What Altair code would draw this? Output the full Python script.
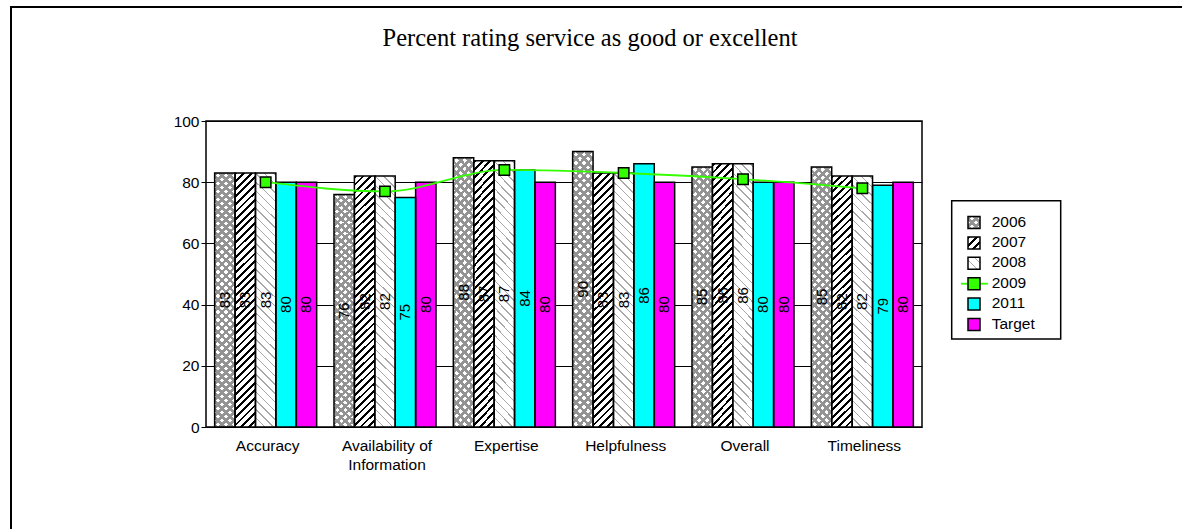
import math

import altair as alt
import pandas as pd

# ---- data -------------------------------------------------------------
TITLE = "Percent rating service as good or excellent"
categories = [
    "Accuracy",
    "Availability of Information",
    "Expertise",
    "Helpfulness",
    "Overall",
    "Timeliness",
]
bar_series = ["2006", "2007", "2008", "2011", "Target"]
legend_series = ["2006", "2007", "2008", "2009", "2011", "Target"]

values_2006 = [83, 76, 88, 90, 85, 85]
values_2007 = [83, 82, 87, 83, 86, 82]
values_2008 = [83, 82, 87, 83, 86, 82]
values_2011 = [80, 75, 84, 86, 80, 79]
values_target = [80, 80, 80, 80, 80, 80]
values_2009 = [80, 77, 84, 83, 81, 78]
y_ticks = [0, 20, 40, 60, 80, 100]

# ---- styling ----------------------------------------------------------
SANS = "Liberation Sans"
SERIF = "Liberation Serif"
GREEN = "#33FF00"
CYAN = "#00FFFF"
MAGENTA = "#FF00FF"
W, H = 716, 306


def hatch(color, period, thick, direction, box_w, box_h):
    """Striped fill built from a hard-stop linear gradient at 45 degrees."""
    span = (box_w + box_h) / math.sqrt(2)
    k = (box_w + box_h) / (box_w ** 2 + box_h ** 2)
    clear = "rgba(255,255,255,0)"
    stops = []
    start = 0.0
    while start < span:
        a = start / span
        b = min((start + thick) / span, 1.0)
        c = min((start + period) / span, 1.0)
        stops += [
            {"offset": round(a, 5), "color": color},
            {"offset": round(b, 5), "color": color},
            {"offset": round(b, 5), "color": clear},
            {"offset": round(c, 5), "color": clear},
        ]
        start += period
    if direction == "/":
        x1, y1, x2, y2 = 0, 0, k * box_w, k * box_h
    else:
        x1, y1, x2, y2 = 0, 1, k * box_w, 1 - k * box_h
    return {"gradient": "linear", "x1": x1, "y1": y1, "x2": x2, "y2": y2, "stops": stops}


# bar-sized and legend-sized pattern fills
BW, BH = 20.4, 255
P06a = hatch("#939393", 5.7, 2.6, "/", BW, BH)
P06b = hatch("#939393", 5.7, 2.6, "\\", BW, BH)
P07 = hatch("#000000", 5.4, 2.0, "/", BW, BH)
P08 = hatch("#A8A8A8", 6.2, 1.0, "\\", BW, BH)
L06a = hatch("#939393", 5.7, 2.6, "/", 12, 12)
L06b = hatch("#939393", 5.7, 2.6, "\\", 12, 12)
L07 = hatch("#000000", 5.4, 2.0, "/", 12, 12)
L08 = hatch("#A8A8A8", 6.2, 1.0, "\\", 12, 12)

# ---- tables -----------------------------------------------------------
series_values = {
    "2006": values_2006,
    "2007": values_2007,
    "2008": values_2008,
    "2011": values_2011,
    "Target": values_target,
}
bars_df = pd.DataFrame(
    [
        {"category": cat, "series": s, "value": vals[i]}
        for s, vals in series_values.items()
        for i, cat in enumerate(categories)
    ]
)
line_df = pd.DataFrame({"category": categories, "value": values_2009})
legend_df = pd.DataFrame({"series": legend_series})
one_df = pd.DataFrame({"item": ["frame"]})

# ---- shared encodings ---------------------------------------------------
x_axis = alt.Axis(
    labelFont=SANS,
    labelFontSize=15.5,
    labelColor="black",
    labelAngle=0,
    labelPadding=11,
    labelOffset=2,
    labelLineHeight=19,
    labelExpr="split(datum.label, ' of ').length > 1 ? ['Availability of', 'Information'] : datum.label",
    ticks=False,
    tickSize=0,
    domain=False,
    grid=False,
)
y_axis = alt.Axis(
    values=y_ticks,
    labelFont=SANS,
    labelFontSize=15.5,
    labelColor="black",
    labelPadding=2,
    tickSize=5,
    tickColor="black",
    tickWidth=1,
    domain=False,
    grid=True,
    gridColor="black",
    gridWidth=1,
    gridOpacity=1,
)
x_enc = alt.X(
    "category:N",
    sort=categories,
    title=None,
    scale=alt.Scale(paddingInner=0.145, paddingOuter=0.0725),
    axis=x_axis,
)
xo_enc = alt.XOffset("series:N", sort=bar_series, scale=alt.Scale(domain=bar_series))
y_scale = alt.Scale(domain=[0, 100], nice=False)
y_enc = alt.Y("value:Q", title=None, scale=y_scale, axis=y_axis)

bars = alt.Chart(bars_df)

bar_base = bars.mark_bar().encode(
    x=x_enc,
    xOffset=xo_enc,
    y=y_enc,
    fill=alt.Fill(
        "series:N",
        scale=alt.Scale(domain=bar_series, range=["white", "white", "white", CYAN, MAGENTA]),
        legend=None,
    ),
)


def patterned(series, fill):
    return (
        bars.transform_filter(alt.datum.series == series)
        .mark_bar(fill=fill)
        .encode(x=x_enc, xOffset=xo_enc, y=y_enc)
    )


bar_outline = bars.mark_bar(fill="transparent", stroke="black", strokeWidth=1.5).encode(
    x=x_enc, xOffset=xo_enc, y=y_enc
)

line_2009 = alt.Chart(line_df).mark_line(
    color=GREEN, strokeWidth=1.8, interpolate="monotone"
).encode(x=x_enc, y=y_enc)

points_2009 = alt.Chart(line_df).mark_square(
    size=110, filled=True, fill=GREEN, stroke="black", strokeWidth=1.5, opacity=1
).encode(x=x_enc, y=y_enc)

bar_labels = (
    bars.transform_calculate(mid="datum.value / 2")
    .mark_text(angle=270, font=SANS, fontSize=15, color="black", baseline="middle", align="center")
    .encode(
        x=x_enc,
        xOffset=xo_enc,
        y=alt.Y("mid:Q", title=None, scale=y_scale, axis=y_axis),
        text=alt.Text("value:Q", format="d"),
    )
)

main = alt.layer(
    bar_base,
    patterned("2006", P06a),
    patterned("2006", P06b),
    patterned("2007", P07),
    patterned("2008", P08),
    bar_outline,
    line_2009,
    points_2009,
    bar_labels,
)

# ---- legend -------------------------------------------------------------
leg = alt.Chart(legend_df)
ly = alt.Y(
    "series:N",
    sort=legend_series,
    scale=alt.Scale(domain=legend_series, type="point", range=[101.5, 203.5], padding=0),
    axis=None,
)
leg_x = alt.value(768)

legend_box = alt.Chart(one_df).mark_rect(fill="white", stroke="black", strokeWidth=1.5).encode(
    x=alt.value(745.7), x2=alt.value(854.7), y=alt.value(79.7), y2=alt.value(218)
)
legend_line = (
    leg.transform_filter(alt.datum.series == "2009")
    .mark_rule(color=GREEN, strokeWidth=1.8)
    .encode(x=alt.value(755), x2=alt.value(782), y=ly)
)
legend_fill = leg.mark_square(size=144, filled=True, opacity=1).encode(
    x=leg_x,
    y=ly,
    fill=alt.Fill(
        "series:N",
        scale=alt.Scale(
            domain=legend_series, range=["white", "white", "white", GREEN, CYAN, MAGENTA]
        ),
        legend=None,
    ),
)


def legend_pattern(series, fill):
    return (
        leg.transform_filter(alt.datum.series == series)
        .mark_square(size=144, filled=True, fill=fill, opacity=1)
        .encode(x=leg_x, y=ly)
    )


legend_outline = leg.mark_square(
    size=144, filled=False, stroke="black", strokeWidth=1.5, opacity=1
).encode(x=leg_x, y=ly)
legend_text = leg.mark_text(
    align="left", baseline="middle", font=SANS, fontSize=15.5, color="black", dy=-1
).encode(x=alt.value(785.7), y=ly, text="series:N")

legend = alt.layer(
    legend_box,
    legend_line,
    legend_fill,
    legend_pattern("2006", L06a),
    legend_pattern("2006", L06b),
    legend_pattern("2007", L07),
    legend_pattern("2008", L08),
    legend_outline,
    legend_text,
)

# ---- title and outer frame ----------------------------------------------
title = alt.Chart(one_df).mark_text(
    text=TITLE, font=SERIF, fontSize=24.5, color="black", align="center", baseline="alphabetic"
).encode(x=alt.value(384), y=alt.value(-75))
frame_left = alt.Chart(one_df).mark_rule(color="black", strokeWidth=2).encode(
    x=alt.value(-195), y=alt.value(-114), y2=alt.value(430)
)
frame_top = alt.Chart(one_df).mark_rule(color="black", strokeWidth=2).encode(
    x=alt.value(-196), x2=alt.value(990), y=alt.value(-114)
)
chrome = alt.layer(title, frame_left, frame_top)

chart = (
    alt.layer(main, legend, chrome)
    .resolve_scale(y="independent", fill="independent")
    .properties(
        width=W,
        height=H,
        background="white",
        padding={"left": 206, "top": 121, "right": 1182 - 206 - W, "bottom": 529 - 121 - H},
        autosize=alt.AutoSizeParams(type="none"),
    )
    .configure_view(stroke="black", strokeWidth=1.5)
)

chart.save("out.html", embed_options={"renderer": "svg", "actions": False})
